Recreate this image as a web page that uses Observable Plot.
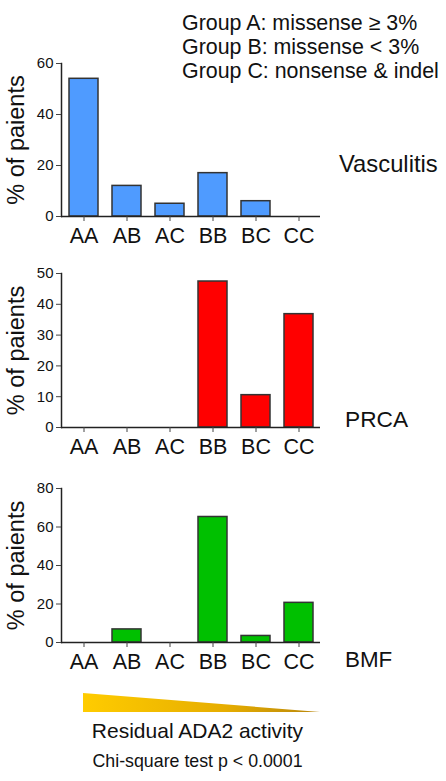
<!DOCTYPE html>
<html>
<head>
<meta charset="utf-8">
<script src="https://cdn.jsdelivr.net/npm/d3@7"></script>
<script src="https://cdn.jsdelivr.net/npm/@observablehq/plot@0.6"></script>
<style>
  html, body { margin: 0; padding: 0; background: #fff; }
  #root { position: relative; width: 446px; height: 781px; overflow: hidden; font-family: "Liberation Sans", Arial, sans-serif; }
  #root > svg, #root > div { position: absolute; left: 0; }
</style>
</head>
<body>
<div id="root"></div>
<script>
// ---- data ----
const categories = ["AA", "AB", "AC", "BB", "BC", "CC"];
const vasculitis = [54, 12, 5, 17, 6, 0];
const prca = [0, 0, 0, 47.4, 10.5, 36.8];
const bmf = [0, 6.8, 0, 65.2, 3.4, 20.6];
const panelNames = ["Vasculitis", "PRCA", "BMF"];
const yMaxes = [60, 50, 80];
const yTickSets = [[0, 20, 40, 60], [0, 10, 20, 30, 40, 50], [0, 20, 40, 60, 80]];
const yLabel = "% of paients";
const legendLines = ["Group A: missense \u2265 3%", "Group B: missense < 3%", "Group C: nonsense & indel"];
const gradientLabel = "Residual ADA2 activity";
const testNote = "Chi-square test p < 0.0001";

// ---- layout / style ----
const FONT = "Liberation Sans, Arial, sans-serif";
const fills = ["#4f9bff", "#ff0000", "#00c000"];
const seriesList = [vasculitis, prca, bmf];
const panels = [
  {top: 40, height: 220, marginTop: 23, marginBottom: 44},
  {top: 250, height: 210, marginTop: 23, marginBottom: 33},
  {top: 465, height: 210, marginTop: 23, marginBottom: 33}
];
const root = document.getElementById("root");

seriesList.forEach((vals, k) => {
  const data = categories.map((c, i) => ({cat: c, value: vals[i]}));
  const p = panels[k];
  const chart = Plot.plot({
    width: 446,
    height: p.height,
    marginLeft: 61,
    marginRight: 126,
    marginTop: p.marginTop,
    marginBottom: p.marginBottom,
    style: {fontFamily: FONT, color: "#111", background: "transparent", overflow: "visible"},
    x: {domain: categories, paddingInner: 0.33, paddingOuter: 0.17},
    y: {domain: [0, yMaxes[k]]},
    marks: [
      Plot.barY(data, {x: "cat", y: "value", fill: fills[k], stroke: "#333", strokeWidth: 1.5}),
      Plot.ruleY([0], {stroke: "#222", strokeWidth: 1.5}),
      Plot.frame({anchor: "left", stroke: "#222", strokeWidth: 1.5}),
      Plot.axisX({fontSize: 21.5, tickSize: 5, tickPadding: 6, label: null, stroke: "#444"}),
      Plot.axisY({ticks: yTickSets[k], fontSize: 15, tickSize: 5, tickPadding: 3, stroke: "#444",
        label: yLabel, labelAnchor: "center", labelArrow: "none", labelOffset: 54})
    ]
  });
  chart.style.top = p.top + "px";
  chart.style.position = "absolute";
  chart.querySelectorAll("g[aria-label='y-axis label'], g[aria-label='y-axis label'] text").forEach(n => {
    n.setAttribute("font-size", 23.5);
    n.style.fontSize = "23.5px";
  });
  root.appendChild(chart);
});

// ---- annotation overlay ----
const svg = d3.select(root).append("svg")
  .attr("width", 446).attr("height", 781)
  .style("top", "0px").style("position", "absolute")
  .attr("font-family", FONT);

svg.selectAll("text.legend").data(legendLines).join("text")
  .attr("x", 182).attr("y", (d, i) => 30 + i * 24)
  .attr("font-size", 21.4).attr("fill", "#111").text(d => d);

const namePos = [[339, 172], [345, 427], [345, 667]];
const nameSize = [23.8, 22.7, 22.4];
svg.selectAll("text.pname").data(panelNames).join("text")
  .attr("x", (d, i) => namePos[i][0]).attr("y", (d, i) => namePos[i][1])
  .attr("font-size", (d, i) => nameSize[i]).attr("fill", "#111").text(d => d);

const defs = svg.append("defs");
const grad = defs.append("linearGradient").attr("id", "gold").attr("x1", "0").attr("x2", "1").attr("y1", "0").attr("y2", "0");
grad.append("stop").attr("offset", "0").attr("stop-color", "#ffcc00");
grad.append("stop").attr("offset", "0.6").attr("stop-color", "#e6ad00");
grad.append("stop").attr("offset", "1").attr("stop-color", "#b8860b");
svg.append("path").attr("d", "M83,693 L320,712 L83,712 Z").attr("fill", "url(#gold)");

svg.append("text").attr("x", 197.5).attr("y", 738).attr("text-anchor", "middle")
  .attr("font-size", 21).attr("fill", "#111").text(gradientLabel);
svg.append("text").attr("x", 197.5).attr("y", 767).attr("text-anchor", "middle")
  .attr("font-size", 17.8).attr("fill", "#111").text(testNote);
</script>
</body>
</html>
